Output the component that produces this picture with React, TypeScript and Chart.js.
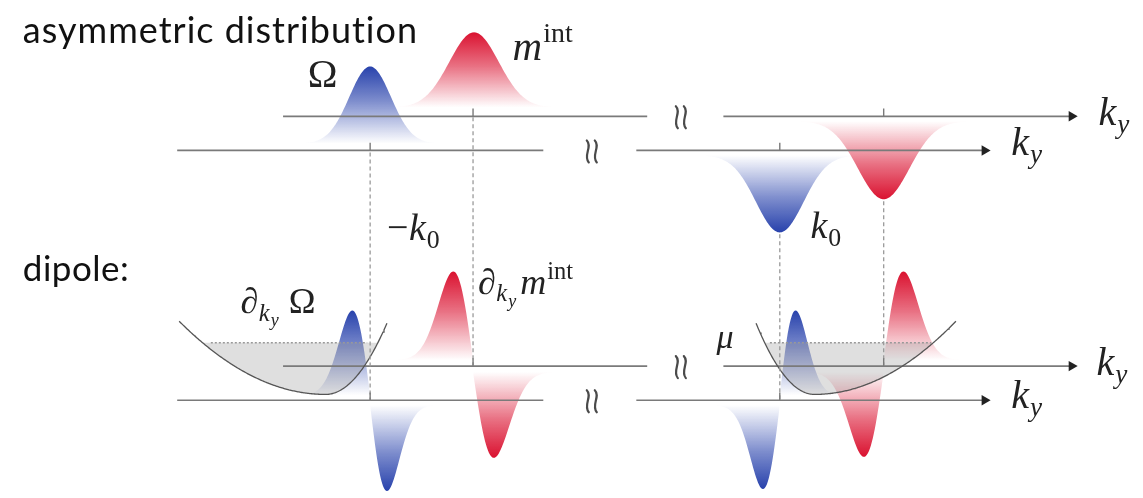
import React, { useEffect, useRef } from 'react';
import { Chart, registerables } from 'chart.js';
Chart.register(...registerables);

const W = 1143;
const H = 498;

// ---- axes (diagram units: x = k-axis position, y = vertical position, downward) ----
const axisY = [113, 148, 369, 404]; // top-back, top-front, low-back, low-front
const axisKind = ['back', 'front', 'back', 'front'];
const backAxisX = [280, 648, 725, 1077];
const frontAxisX = [173, 543, 637, 989];
const breakX = { back: 682, front: 592 };

// ---- asymmetric distribution (top panel) ----
const peakCenter = [368, 473, 782, 887];
const peakSigma = [21, 25, 24, 26];
const peakAmp = [79, 77, -79, -80];
const peakBase = [141, 104, 153, 118];
const peakColor = ['blue', 'red', 'blue', 'red'];

// ---- dipole lobes (bottom panel) ----
const lobeCenter = [368, 368, 472, 472, 782, 782, 887, 887];
const lobeSide = [-1, 1, -1, 1, 1, -1, 1, -1];
const lobeSigma = [18, 17, 20, 21, 16, 17, 20, 20];
const lobeAmp = [87, -88, 91, -88, 87, -86, 91, -87];
const lobeBase = [399, 409, 363, 375, 399, 409, 363, 375];
const lobeColor = ['blue', 'blue', 'red', 'red', 'blue', 'blue', 'red', 'red'];

// ---- bands (dispersion) ----
const bandMinX = [323, 817];
const bandMinY = [398, 398];
const bandLeft = [[175, 323], [758, 325]];
const bandRight = [[385, 325], [960, 323]];
const muLevel = 345;
const muLineX = [[207, 365], [772, 935]];

// ---- guides ----
const dashedX = [368, 472, 782, 887];
const dashedFrom = [150, 114, 234, 200];
const dashedTo = [404, 369, 404, 369];
const tickX = [368, 472, 782, 887, 368, 472, 782, 887];
const tickY = [148, 113, 148, 113, 404, 369, 404, 369];

const COLORS: Record<string, number[]> = { blue: [40, 66, 172], red: [218, 18, 48] };

type Run = { t: string; i?: boolean; lv?: number; gap?: number };
type MathLabel = { x: number; y: number; size: number; runs: Run[] };
const ky: Run[] = [{ t: 'k', i: true }, { t: 'y', i: true, lv: 1 }];
const mathLabels: MathLabel[] = [
  { x: 305, y: 83, size: 40, runs: [{ t: 'Ω' }] },
  { x: 512, y: 55, size: 41, runs: [{ t: 'm', i: true }, { t: 'int', lv: -1 }] },
  { x: 1104, y: 122, size: 40, runs: ky },
  { x: 1016, y: 153, size: 40, runs: ky },
  { x: 385, y: 240, size: 38, runs: [{ t: '−' }, { t: 'k', i: true }, { t: '0', lv: 1 }] },
  { x: 813, y: 238, size: 38, runs: [{ t: 'k', i: true }, { t: '0', lv: 1 }] },
  { x: 237, y: 315, size: 36, runs: [{ t: '∂' }, { t: 'k', i: true, lv: 1 }, { t: 'y', i: true, lv: 2, gap: 9 }, { t: 'Ω' }] },
  { x: 477, y: 295, size: 36, runs: [{ t: '∂' }, { t: 'k', i: true, lv: 1 }, { t: 'y', i: true, lv: 2, gap: 3 }, { t: 'm', i: true }, { t: 'int', lv: -1 }] },
  { x: 718, y: 350, size: 34, runs: [{ t: 'μ', i: true }] },
  { x: 1102, y: 378, size: 40, runs: ky },
  { x: 1016, y: 412, size: 40, runs: ky },
];
const plainLabels = [
  { x: 17, y: 38, size: 36, spacing: 1, text: 'asymmetric distribution' },
  { x: 17, y: 282, size: 35, spacing: 0.5, text: 'dipole:' },
];

function rgba(name: string, a: number) {
  const c = COLORS[name];
  return `rgba(${c[0]},${c[1]},${c[2]},${a})`;
}

function gradientFill(color: string, tipY: number, baseY: number) {
  return (ctx: any) => {
    const chart = ctx.chart;
    const ys = chart.scales && chart.scales.y;
    if (!ys) return rgba(color, 0.5);
    const p0 = ys.getPixelForValue(tipY);
    const p1 = ys.getPixelForValue(baseY);
    if (!isFinite(p0) || !isFinite(p1) || p0 === p1) return rgba(color, 0.5);
    const g = chart.ctx.createLinearGradient(0, p0, 0, p1);
    g.addColorStop(0, rgba(color, 1));
    g.addColorStop(0.45, rgba(color, 0.6));
    g.addColorStop(1, rgba(color, 0.0));
    return g;
  };
}

function fillSet(pts: { x: number; y: number }[], base: number, color: string, tipY: number) {
  return {
    data: pts,
    showLine: true,
    borderWidth: 0,
    borderColor: 'rgba(0,0,0,0)',
    pointRadius: 0,
    fill: { value: base },
    backgroundColor: gradientFill(color, tipY, base),
  };
}

function buildDatasets() {
  const red: any[] = [];
  const blue: any[] = [];
  peakCenter.forEach((c, i) => {
    const s = peakSigma[i];
    const pts = [] as { x: number; y: number }[];
    for (let x = c - 4 * s; x <= c + 4 * s; x += 1) {
      pts.push({ x, y: peakBase[i] - peakAmp[i] * Math.exp(-((x - c) ** 2) / (2 * s * s)) });
    }
    const ds = fillSet(pts, peakBase[i], peakColor[i], peakBase[i] - peakAmp[i]);
    (peakColor[i] === 'red' ? red : blue).push(ds);
  });
  lobeCenter.forEach((c, i) => {
    const s = lobeSigma[i];
    const side = lobeSide[i];
    const pts = [] as { x: number; y: number }[];
    for (let d = 0; d <= 4 * s; d += 1) {
      const u = d / s;
      const g = u * Math.exp(0.5 - (u * u) / 2);
      pts.push({ x: c + side * d, y: lobeBase[i] - lobeAmp[i] * g });
    }
    if (side < 0) pts.reverse();
    const ds = fillSet(pts, lobeBase[i], lobeColor[i], lobeBase[i] - lobeAmp[i]);
    (lobeColor[i] === 'red' ? red : blue).push(ds);
  });

  const bandFill: any[] = [];
  const bandLine: any[] = [];
  bandMinX.forEach((mx, i) => {
    const my = bandMinY[i];
    const aL = (my - bandLeft[i][1]) / (mx - bandLeft[i][0]) ** 2;
    const aR = (my - bandRight[i][1]) / (bandRight[i][0] - mx) ** 2;
    const curve = [] as { x: number; y: number }[];
    for (let x = bandLeft[i][0]; x <= bandRight[i][0]; x += 1) {
      const a = x < mx ? aL : aR;
      curve.push({ x, y: my - a * (x - mx) ** 2 });
    }
    const inside = curve.filter((p) => p.y >= muLevel);
    bandFill.push({
      data: inside,
      showLine: true,
      borderWidth: 0,
      borderColor: 'rgba(0,0,0,0)',
      pointRadius: 0,
      fill: { value: muLevel },
      backgroundColor: 'rgba(150,150,150,0.3)',
    });
    bandLine.push({
      data: curve,
      showLine: true,
      borderWidth: 1.3,
      borderColor: '#555',
      pointRadius: 0,
      fill: false,
    });
    bandLine.push({
      data: [{ x: muLineX[i][0], y: muLevel }, { x: muLineX[i][1], y: muLevel }],
      showLine: true,
      borderWidth: 1.4,
      borderColor: '#999',
      borderDash: [2, 2],
      pointRadius: 0,
      fill: false,
    });
  });

  const axes: any[] = [];
  axisY.forEach((y, i) => {
    const xs = axisKind[i] === 'back' ? backAxisX : frontAxisX;
    axes.push({
      data: [{ x: xs[0], y }, { x: xs[1], y }],
      showLine: true, borderWidth: 1.7, borderColor: '#7a7a7a', pointRadius: 0, fill: false,
    });
    axes.push({
      data: [{ x: xs[2], y }, { x: xs[3], y }],
      showLine: true, borderWidth: 1.7, borderColor: '#7a7a7a', fill: false,
      pointRadius: [0, 6], pointStyle: 'triangle', pointRotation: 90,
      pointBackgroundColor: '#222', pointBorderColor: '#222', pointBorderWidth: 0,
    });
  });

  const guides: any[] = [];
  dashedX.forEach((x, i) => {
    guides.push({
      data: [{ x, y: dashedFrom[i] }, { x, y: dashedTo[i] }],
      showLine: true, borderWidth: 1.3, borderColor: '#9a9a9a', borderDash: [4, 3], pointRadius: 0, fill: false,
    });
  });
  tickX.forEach((x, i) => {
    guides.push({
      data: [{ x, y: tickY[i] - 8 }, { x, y: tickY[i] }],
      showLine: true, borderWidth: 1.4, borderColor: '#7a7a7a', pointRadius: 0, fill: false,
    });
  });

  const all = [...red, ...blue, ...bandFill, ...axes, ...bandLine, ...guides];
  const n = all.length;
  return all.map((d, i) => ({ ...d, order: n - i }));
}

const textPlugin = {
  id: 'diagramText',
  afterDatasetsDraw(chart: any) {
    const { ctx, scales } = chart;
    const px = (v: number) => scales.x.getPixelForValue(v);
    const py = (v: number) => scales.y.getPixelForValue(v);
    ctx.save();
    ctx.textBaseline = 'alphabetic';
    ctx.textAlign = 'left';
    ctx.fillStyle = '#111';
    plainLabels.forEach((l) => {
      ctx.font = `${l.size}px Lato, "Open Sans", sans-serif`;
      (ctx as any).letterSpacing = `${l.spacing}px`;
      ctx.fillText(l.text, px(l.x), py(l.y));
    });
    (ctx as any).letterSpacing = '0px';
    // axis break marks (two wavy strokes, like a rotated tilde)
    ctx.strokeStyle = '#4a4a4a';
    ctx.lineWidth = 2.2;
    ctx.lineCap = 'round';
    axisY.forEach((y, i) => {
      const bx = px(axisKind[i] === 'back' ? breakX.back : breakX.front);
      const cy = py(y) + 1;
      [-4, 4].forEach((off) => {
        const x0 = bx + off;
        ctx.beginPath();
        ctx.moveTo(x0 - 1, cy - 11);
        ctx.bezierCurveTo(x0 + 5, cy - 5, x0 - 5, cy + 4, x0 + 1, cy + 11);
        ctx.stroke();
      });
    });
    ctx.fillStyle = '#222';
    mathLabels.forEach((l) => {
      let cx = px(l.x);
      const by = py(l.y);
      l.runs.forEach((r) => {
        const lv = r.lv || 0;
        const sc = lv === 0 ? 1 : lv === 2 ? 0.5 : 0.68;
        const dy = lv === 1 ? 0.2 * l.size : lv === 2 ? 0.36 * l.size : lv === -1 ? -0.42 * l.size : 0;
        ctx.font = `${r.i ? 'italic ' : ''}${(l.size * sc).toFixed(1)}px "Liberation Serif", serif`;
        ctx.fillText(r.t, cx, by + dy);
        cx += ctx.measureText(r.t).width + (r.i ? 1 : 0.5) + (r.gap || 0);
      });
    });
    ctx.restore();
  },
};

export default function App() {
  const ref = useRef<HTMLCanvasElement | null>(null);
  useEffect(() => {
    document.body.style.margin = '0';
    if (!ref.current) return;
    const chart = new Chart(ref.current, {
      type: 'scatter',
      data: { datasets: buildDatasets() as any },
      options: {
        animation: false,
        responsive: false,
        maintainAspectRatio: false,
        layout: { padding: 0 },
        plugins: { legend: { display: false }, tooltip: { enabled: false } },
        elements: { line: { tension: 0 }, point: { radius: 0 } },
        scales: {
          x: { type: 'linear', min: 0, max: W, display: false },
          y: { type: 'linear', min: 0, max: H, reverse: true, display: false },
        },
      } as any,
      plugins: [textPlugin],
    });
    return () => chart.destroy();
  }, []);
  return (
    <div style={{ width: W, height: H, background: '#fff' }}>
      <canvas ref={ref} width={W} height={H} style={{ display: 'block' }} />
    </div>
  );
}
